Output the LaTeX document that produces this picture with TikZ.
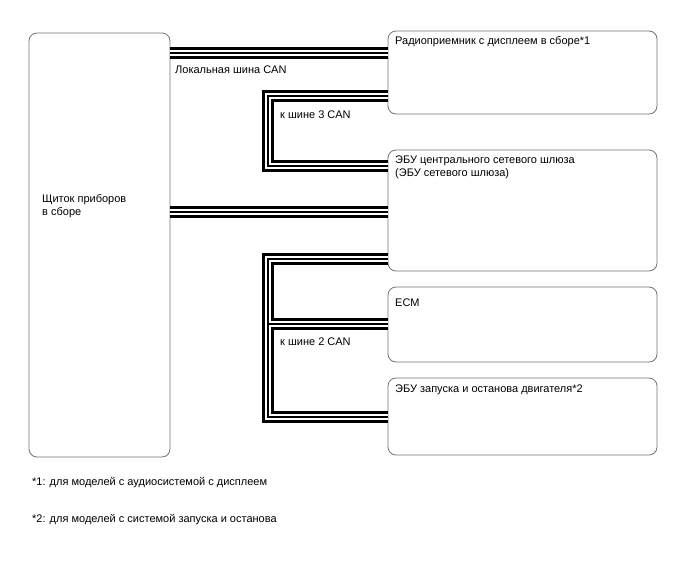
\documentclass[tikz,border=0pt]{standalone}
\usepackage{fontspec}
\setmainfont{Liberation Sans}
\usetikzlibrary{calc}
\tikzset{
  unitbox/.style={draw=black!55, line width=0.8pt, rounded corners=8pt, inner sep=0pt},
  canbus/.style={preaction={draw, line width=12pt}, preaction={draw, white, line width=6.4pt}, draw, line width=1.4pt},
  txt/.style={inner sep=0pt, anchor=base west, font=\fontsize{11}{13}\selectfont},
}
\begin{document}
\begin{tikzpicture}[x=1pt, y=-1pt]
\useasboundingbox (0,0) rectangle (688,560);
% units
\node[unitbox, minimum width=141, minimum height=424] (panel) at (99.5,245) {};
\node[unitbox, minimum width=269, minimum height=83] (radio) at (522.5,72.5) {};
\node[unitbox, minimum width=269, minimum height=121] (gateway) at (522.5,210.5) {};
\node[unitbox, minimum width=269, minimum height=75] (ecm) at (522.5,324.5) {};
\node[unitbox, minimum width=269, minimum height=77] (engine) at (522.5,416.5) {};
\node[txt, anchor=north west, align=left] (panel-t) at (42,194) {Щиток приборов\\в сборе};
\node[txt] (radio-t) at (395,44) {Радиоприемник с дисплеем в сборе*1};
\node[txt, anchor=north west, align=left] (gateway-t) at (395,156) {ЭБУ центрального сетевого шлюза\\(ЭБУ сетевого шлюза)};
\node[txt] (ecm-t) at (395,306) {ECM};
\node[txt] (engine-t) at (395,392) {ЭБУ запуска и останова двигателя*2};
% bus labels
\node[txt] (local-t) at (175,73) {Локальная шина CAN};
\node[txt] (bus3-t) at (280,118) {к шине 3 CAN};
\node[txt] (bus2-t) at (280,345) {к шине 2 CAN};
% footnotes
\node[txt] (note1) at (32,485) {*1: для моделей с аудиосистемой с дисплеем};
\node[txt] (note2) at (32,522) {*2: для моделей с системой запуска и останова};
% buses
\coordinate (loc) at (170,53);
\coordinate (main) at (170,212);
\coordinate (b3a) at (268,96);
\coordinate (b3b) at (268,166);
\coordinate (b2a) at (268,259);
\coordinate (b2b) at (268,417);
\coordinate (b2c) at (268,324);
\draw[canbus] (panel.east |- loc) -- (radio.west |- loc);
\draw[canbus] (panel.east |- main) -- (gateway.west |- main);
\draw[canbus] (radio.west |- b3a) -- (b3a) -- (b3b) -- (gateway.west |- b3b);
\draw[canbus] (gateway.west |- b2a) -- (b2a) -- (b2b) -- (engine.west |- b2b)
  (b2c) -- (ecm.west |- b2c);
\end{tikzpicture}
\end{document}
